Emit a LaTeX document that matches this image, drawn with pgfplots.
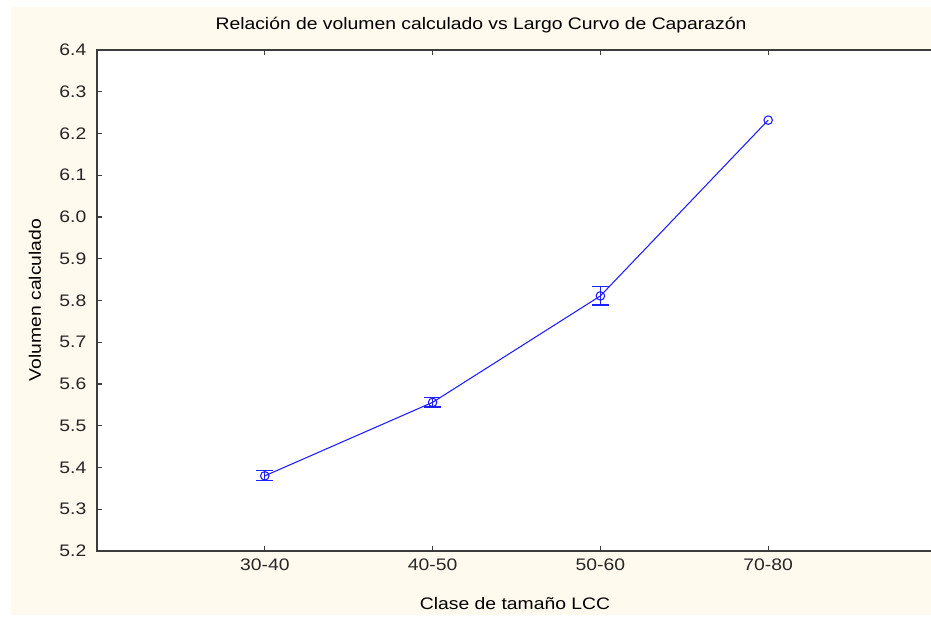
\documentclass[border=0pt]{standalone}
\usepackage{fontspec}
\setmainfont{Liberation Sans}[FakeStretch=1.16]
\usepackage{pgfplots}
\pgfplotsset{compat=1.18}
\definecolor{bgcream}{RGB}{255,249,238}
\definecolor{axgray}{RGB}{60,60,60}
\definecolor{lineblue}{RGB}{30,30,255}

\pgfplotstableread{
x y     e
0 5.380 0.012
1 5.556 0.011
2 5.811 0.022
3 6.232 0.000
}\volumen

\begin{document}
\begin{tikzpicture}[x=0.75pt,y=0.75pt]
\useasboundingbox (0,0) rectangle (931,617);
\fill[white] (0,0) rectangle (931,617);
\fill[bgcream] (11,2) rectangle (931,610);
\begin{axis}[
  at={(72.75pt,49.5pt)}, anchor=south west,
  scale only axis, width=629.25pt, height=375.75pt,
  xmin=-1, xmax=4, ymin=5.2, ymax=6.4,
  axis background/.style={fill=white},
  axis line style={axgray, line width=1.1pt},
  xtick={0,1,2,3}, xticklabels={30-40,40-50,50-60,70-80},
  ytick={5.2,5.3,5.4,5.5,5.6,5.7,5.8,5.9,6.0,6.1,6.2,6.3,6.4},
  /pgf/number format/fixed, /pgf/number format/fixed zerofill,
  /pgf/number format/precision=1,
  /pgf/number format/assume math mode=true,
  tick align=inside, major tick length=3.75pt,
  tick style={axgray, line width=0.8pt},
  ticklabel style={font=\fontsize{12.5}{14}\selectfont, text=black!85},
  xticklabel style={yshift=-2pt},
  yticklabel style={xshift=-4.5pt},
]
% mean line with circle markers
\addplot[lineblue, line width=0.8pt, mark=o, mark size=3.2pt,
  mark options={line width=0.8pt}]
  table[x=x, y=y] {\volumen};
% error bars for the first three classes
\addplot[draw=none, mark=none, forget plot,
  error bars/.cd, y dir=both, y explicit,
  error mark options={lineblue, line width=0.9pt, mark size=6.4pt, rotate=90},
  error bar style={lineblue, line width=0.9pt}]
  table[x=x, y=y, y error=e, restrict expr to domain={\coordindex}{0:2}] {\volumen};
\end{axis}
\node[font=\fontsize{12.5}{14}\selectfont] at (481,592) {Relación de volumen calculado vs Largo Curvo de Caparazón};
\node[font=\fontsize{12.5}{14}\selectfont, rotate=90] at (35,317) {Volumen calculado};
\node[font=\fontsize{12.5}{14}\selectfont] at (515,13) {Clase de tamaño LCC};
\end{tikzpicture}
\end{document}
